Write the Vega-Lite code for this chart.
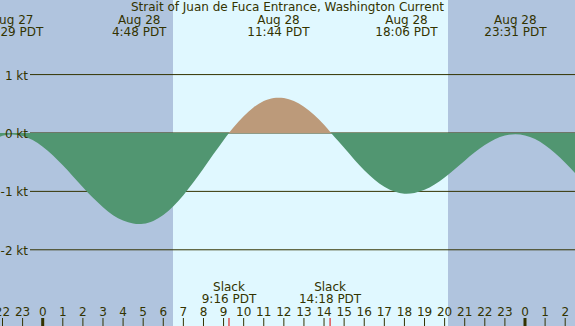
{
  "$schema": "https://vega.github.io/schema/vega-lite/v6.json",
  "width": 575,
  "height": 326,
  "padding": 0,
  "autosize": {"type": "none"},
  "background": "#b0c4de",
  "config": {"view": {"stroke": null}, "text": {"font": "DejaVu Sans", "fontSize": 12, "color": "#333300"}},
  "datasets": {
    "periods": [
      {"h": -2.125, "h2": 6.484, "period": "night"},
      {"h": 6.484, "h2": 20.168, "period": "day"},
      {"h": 20.168, "h2": 26.488, "period": "night"}
    ],
    "levels": [
      {"v": 1, "label": "1 kt"},
      {"v": 0, "label": "0 kt"},
      {"v": -1, "label": "-1 kt"},
      {"v": -2, "label": "-2 kt"}
    ],
    "current": [
      {"h": -2.125, "v": -0.065, "seg": 1, "phase": "ebb"},
      {"h": -2, "v": -0.049, "seg": 1, "phase": "ebb"},
      {"h": -1.52, "v": -0.025, "seg": 1, "phase": "ebb"},
      {"h": -1, "v": -0.051, "seg": 1, "phase": "ebb"},
      {"h": -0.5, "v": -0.122, "seg": 1, "phase": "ebb"},
      {"h": 0, "v": -0.234, "seg": 1, "phase": "ebb"},
      {"h": 0.5, "v": -0.38, "seg": 1, "phase": "ebb"},
      {"h": 1, "v": -0.553, "seg": 1, "phase": "ebb"},
      {"h": 1.5, "v": -0.739, "seg": 1, "phase": "ebb"},
      {"h": 2, "v": -0.929, "seg": 1, "phase": "ebb"},
      {"h": 2.5, "v": -1.111, "seg": 1, "phase": "ebb"},
      {"h": 3, "v": -1.272, "seg": 1, "phase": "ebb"},
      {"h": 3.5, "v": -1.407, "seg": 1, "phase": "ebb"},
      {"h": 4, "v": -1.498, "seg": 1, "phase": "ebb"},
      {"h": 4.5, "v": -1.551, "seg": 1, "phase": "ebb"},
      {"h": 4.8, "v": -1.56, "seg": 1, "phase": "ebb"},
      {"h": 5, "v": -1.556, "seg": 1, "phase": "ebb"},
      {"h": 5.5, "v": -1.506, "seg": 1, "phase": "ebb"},
      {"h": 6, "v": -1.404, "seg": 1, "phase": "ebb"},
      {"h": 6.5, "v": -1.254, "seg": 1, "phase": "ebb"},
      {"h": 7, "v": -1.065, "seg": 1, "phase": "ebb"},
      {"h": 7.5, "v": -0.845, "seg": 1, "phase": "ebb"},
      {"h": 8, "v": -0.607, "seg": 1, "phase": "ebb"},
      {"h": 8.5, "v": -0.362, "seg": 1, "phase": "ebb"},
      {"h": 9, "v": -0.124, "seg": 1, "phase": "ebb"},
      {"h": 9.27, "v": 0, "seg": 1, "phase": "ebb"},
      {"h": 9.27, "v": 0, "seg": 2, "phase": "flood"},
      {"h": 9.5, "v": 0.097, "seg": 2, "phase": "flood"},
      {"h": 10, "v": 0.288, "seg": 2, "phase": "flood"},
      {"h": 10.5, "v": 0.441, "seg": 2, "phase": "flood"},
      {"h": 11, "v": 0.547, "seg": 2, "phase": "flood"},
      {"h": 11.5, "v": 0.6, "seg": 2, "phase": "flood"},
      {"h": 11.73, "v": 0.605, "seg": 2, "phase": "flood"},
      {"h": 12, "v": 0.598, "seg": 2, "phase": "flood"},
      {"h": 12.5, "v": 0.546, "seg": 2, "phase": "flood"},
      {"h": 13, "v": 0.449, "seg": 2, "phase": "flood"},
      {"h": 13.5, "v": 0.311, "seg": 2, "phase": "flood"},
      {"h": 14, "v": 0.142, "seg": 2, "phase": "flood"},
      {"h": 14.35, "v": 0, "seg": 2, "phase": "flood"},
      {"h": 14.35, "v": 0, "seg": 3, "phase": "ebb"},
      {"h": 14.5, "v": -0.06, "seg": 3, "phase": "ebb"},
      {"h": 15, "v": -0.252, "seg": 3, "phase": "ebb"},
      {"h": 15.5, "v": -0.452, "seg": 3, "phase": "ebb"},
      {"h": 16, "v": -0.637, "seg": 3, "phase": "ebb"},
      {"h": 16.5, "v": -0.796, "seg": 3, "phase": "ebb"},
      {"h": 17, "v": -0.921, "seg": 3, "phase": "ebb"},
      {"h": 17.5, "v": -1.004, "seg": 3, "phase": "ebb"},
      {"h": 18, "v": -1.039, "seg": 3, "phase": "ebb"},
      {"h": 18.1, "v": -1.04, "seg": 3, "phase": "ebb"},
      {"h": 18.5, "v": -1.026, "seg": 3, "phase": "ebb"},
      {"h": 19, "v": -0.972, "seg": 3, "phase": "ebb"},
      {"h": 19.5, "v": -0.881, "seg": 3, "phase": "ebb"},
      {"h": 20, "v": -0.761, "seg": 3, "phase": "ebb"},
      {"h": 20.5, "v": -0.621, "seg": 3, "phase": "ebb"},
      {"h": 21, "v": -0.474, "seg": 3, "phase": "ebb"},
      {"h": 21.5, "v": -0.332, "seg": 3, "phase": "ebb"},
      {"h": 22, "v": -0.206, "seg": 3, "phase": "ebb"},
      {"h": 22.5, "v": -0.107, "seg": 3, "phase": "ebb"},
      {"h": 23, "v": -0.043, "seg": 3, "phase": "ebb"},
      {"h": 23.52, "v": -0.02, "seg": 3, "phase": "ebb"},
      {"h": 24, "v": -0.041, "seg": 3, "phase": "ebb"},
      {"h": 24.5, "v": -0.105, "seg": 3, "phase": "ebb"},
      {"h": 25, "v": -0.209, "seg": 3, "phase": "ebb"},
      {"h": 25.5, "v": -0.347, "seg": 3, "phase": "ebb"},
      {"h": 26, "v": -0.51, "seg": 3, "phase": "ebb"},
      {"h": 26.488, "v": -0.686, "seg": 3, "phase": "ebb"}
    ],
    "extremes": [
      {"h": -1.52, "l1": "Aug 27", "l2": "22:29 PDT"},
      {"h": 4.8, "l1": "Aug 28", "l2": "4:48 PDT"},
      {"h": 11.73, "l1": "Aug 28", "l2": "11:44 PDT"},
      {"h": 18.1, "l1": "Aug 28", "l2": "18:06 PDT"},
      {"h": 23.52, "l1": "Aug 28", "l2": "23:31 PDT"}
    ],
    "slacks": [
      {"h": 9.27, "l1": "Slack", "l2": "9:16 PDT"},
      {"h": 14.3, "l1": "Slack", "l2": "14:18 PDT"}
    ],
    "hours": [
      {"h": -2, "label": "22", "midnight": false},
      {"h": -1, "label": "23", "midnight": false},
      {"h": 0, "label": "0", "midnight": true},
      {"h": 1, "label": "1", "midnight": false},
      {"h": 2, "label": "2", "midnight": false},
      {"h": 3, "label": "3", "midnight": false},
      {"h": 4, "label": "4", "midnight": false},
      {"h": 5, "label": "5", "midnight": false},
      {"h": 6, "label": "6", "midnight": false},
      {"h": 7, "label": "7", "midnight": false},
      {"h": 8, "label": "8", "midnight": false},
      {"h": 9, "label": "9", "midnight": false},
      {"h": 10, "label": "10", "midnight": false},
      {"h": 11, "label": "11", "midnight": false},
      {"h": 12, "label": "12", "midnight": false},
      {"h": 13, "label": "13", "midnight": false},
      {"h": 14, "label": "14", "midnight": false},
      {"h": 15, "label": "15", "midnight": false},
      {"h": 16, "label": "16", "midnight": false},
      {"h": 17, "label": "17", "midnight": false},
      {"h": 18, "label": "18", "midnight": false},
      {"h": 19, "label": "19", "midnight": false},
      {"h": 20, "label": "20", "midnight": false},
      {"h": 21, "label": "21", "midnight": false},
      {"h": 22, "label": "22", "midnight": false},
      {"h": 23, "label": "23", "midnight": false},
      {"h": 24, "label": "0", "midnight": true},
      {"h": 25, "label": "1", "midnight": false},
      {"h": 26, "label": "2", "midnight": false}
    ],
    "title": [
      {"h": 12.18, "label": "Strait of Juan de Fuca Entrance, Washington Current"}
    ]
  },
  "layer": [
    {
      "data": {"name": "periods"},
      "mark": {"type": "rect"},
      "encoding": {
        "x": {"field": "h", "type": "quantitative", "scale": {"domain": [-2.125, 26.488], "nice": false, "zero": false}, "axis": null},
        "x2": {"field": "h2"},
        "color": {"field": "period", "type": "nominal", "scale": {"domain": ["night", "day"], "range": ["#b0c4de", "#e0f8ff"]}, "legend": null}
      }
    },
    {
      "data": {"name": "levels"},
      "mark": {"type": "rule", "color": "#333300", "strokeWidth": 1},
      "encoding": {
        "y": {"field": "v", "type": "quantitative", "scale": {"domain": [-3.305, 2.277], "nice": false, "zero": false}, "axis": null},
        "x": {"datum": -0.632, "type": "quantitative", "scale": {"domain": [-2.125, 26.488], "nice": false, "zero": false}, "axis": null},
        "x2": {"datum": 26.488}
      }
    },
    {
      "data": {"name": "current"},
      "mark": {"type": "area", "interpolate": "monotone"},
      "encoding": {
        "x": {"field": "h", "type": "quantitative", "scale": {"domain": [-2.125, 26.488], "nice": false, "zero": false}, "axis": null},
        "y": {"field": "v", "type": "quantitative", "scale": {"domain": [-3.305, 2.277], "nice": false, "zero": false}, "axis": null},
        "y2": {"datum": 0},
        "detail": {"field": "seg", "type": "nominal"},
        "fill": {"field": "phase", "type": "nominal", "scale": {"domain": ["ebb", "flood"], "range": ["#519671", "#bc9a7a"]}, "legend": null}
      }
    },
    {
      "data": {"name": "levels"},
      "mark": {"type": "text", "align": "right", "baseline": "middle", "dy": 1},
      "encoding": {
        "y": {"field": "v", "type": "quantitative", "scale": {"domain": [-3.305, 2.277], "nice": false, "zero": false}, "axis": null},
        "x": {"datum": -0.731, "type": "quantitative", "scale": {"domain": [-2.125, 26.488], "nice": false, "zero": false}, "axis": null},
        "text": {"field": "label", "type": "nominal"}
      }
    },
    {
      "data": {"name": "title"},
      "mark": {"type": "text", "align": "center", "baseline": "alphabetic"},
      "encoding": {
        "x": {"field": "h", "type": "quantitative", "scale": {"domain": [-2.125, 26.488], "nice": false, "zero": false}, "axis": null},
        "y": {"datum": 2.089, "type": "quantitative", "scale": {"domain": [-3.305, 2.277], "nice": false, "zero": false}, "axis": null},
        "text": {"field": "label", "type": "nominal"}
      }
    },
    {
      "data": {"name": "extremes"},
      "mark": {"type": "text", "align": "center", "baseline": "alphabetic"},
      "encoding": {
        "x": {"field": "h", "type": "quantitative", "scale": {"domain": [-2.125, 26.488], "nice": false, "zero": false}, "axis": null},
        "y": {"datum": 1.866, "type": "quantitative", "scale": {"domain": [-3.305, 2.277], "nice": false, "zero": false}, "axis": null},
        "text": {"field": "l1", "type": "nominal"}
      }
    },
    {
      "data": {"name": "extremes"},
      "mark": {"type": "text", "align": "center", "baseline": "alphabetic"},
      "encoding": {
        "x": {"field": "h", "type": "quantitative", "scale": {"domain": [-2.125, 26.488], "nice": false, "zero": false}, "axis": null},
        "y": {"datum": 1.661, "type": "quantitative", "scale": {"domain": [-3.305, 2.277], "nice": false, "zero": false}, "axis": null},
        "text": {"field": "l2", "type": "nominal"}
      }
    },
    {
      "data": {"name": "hours"},
      "mark": {"type": "rule", "color": "#333300"},
      "encoding": {
        "x": {"field": "h", "type": "quantitative", "scale": {"domain": [-2.125, 26.488], "nice": false, "zero": false}, "axis": null},
        "y": {"datum": -3.168, "type": "quantitative", "scale": {"domain": [-3.305, 2.277], "nice": false, "zero": false}, "axis": null},
        "y2": {"datum": -3.305},
        "strokeWidth": {"field": "midnight", "type": "nominal", "scale": {"domain": [false, true], "range": [1, 3]}, "legend": null}
      }
    },
    {
      "data": {"name": "slacks"},
      "mark": {"type": "rule", "color": "#e00000", "strokeWidth": 1},
      "encoding": {
        "x": {"field": "h", "type": "quantitative", "scale": {"domain": [-2.125, 26.488], "nice": false, "zero": false}, "axis": null},
        "y": {"datum": -3.168, "type": "quantitative", "scale": {"domain": [-3.305, 2.277], "nice": false, "zero": false}, "axis": null},
        "y2": {"datum": -3.305}
      }
    },
    {
      "data": {"name": "hours"},
      "mark": {"type": "text", "align": "center", "baseline": "alphabetic"},
      "encoding": {
        "x": {"field": "h", "type": "quantitative", "scale": {"domain": [-2.125, 26.488], "nice": false, "zero": false}, "axis": null},
        "y": {"datum": -3.128, "type": "quantitative", "scale": {"domain": [-3.305, 2.277], "nice": false, "zero": false}, "axis": null},
        "text": {"field": "label", "type": "nominal"}
      }
    },
    {
      "data": {"name": "slacks"},
      "mark": {"type": "text", "align": "center", "baseline": "alphabetic"},
      "encoding": {
        "x": {"field": "h", "type": "quantitative", "scale": {"domain": [-2.125, 26.488], "nice": false, "zero": false}, "axis": null},
        "y": {"datum": -2.714, "type": "quantitative", "scale": {"domain": [-3.305, 2.277], "nice": false, "zero": false}, "axis": null},
        "text": {"field": "l1", "type": "nominal"}
      }
    },
    {
      "data": {"name": "slacks"},
      "mark": {"type": "text", "align": "center", "baseline": "alphabetic"},
      "encoding": {
        "x": {"field": "h", "type": "quantitative", "scale": {"domain": [-2.125, 26.488], "nice": false, "zero": false}, "axis": null},
        "y": {"datum": -2.919, "type": "quantitative", "scale": {"domain": [-3.305, 2.277], "nice": false, "zero": false}, "axis": null},
        "text": {"field": "l2", "type": "nominal"}
      }
    }
  ],
  "resolve": {"scale": {"color": "independent", "fill": "independent", "strokeWidth": "independent"}}
}
